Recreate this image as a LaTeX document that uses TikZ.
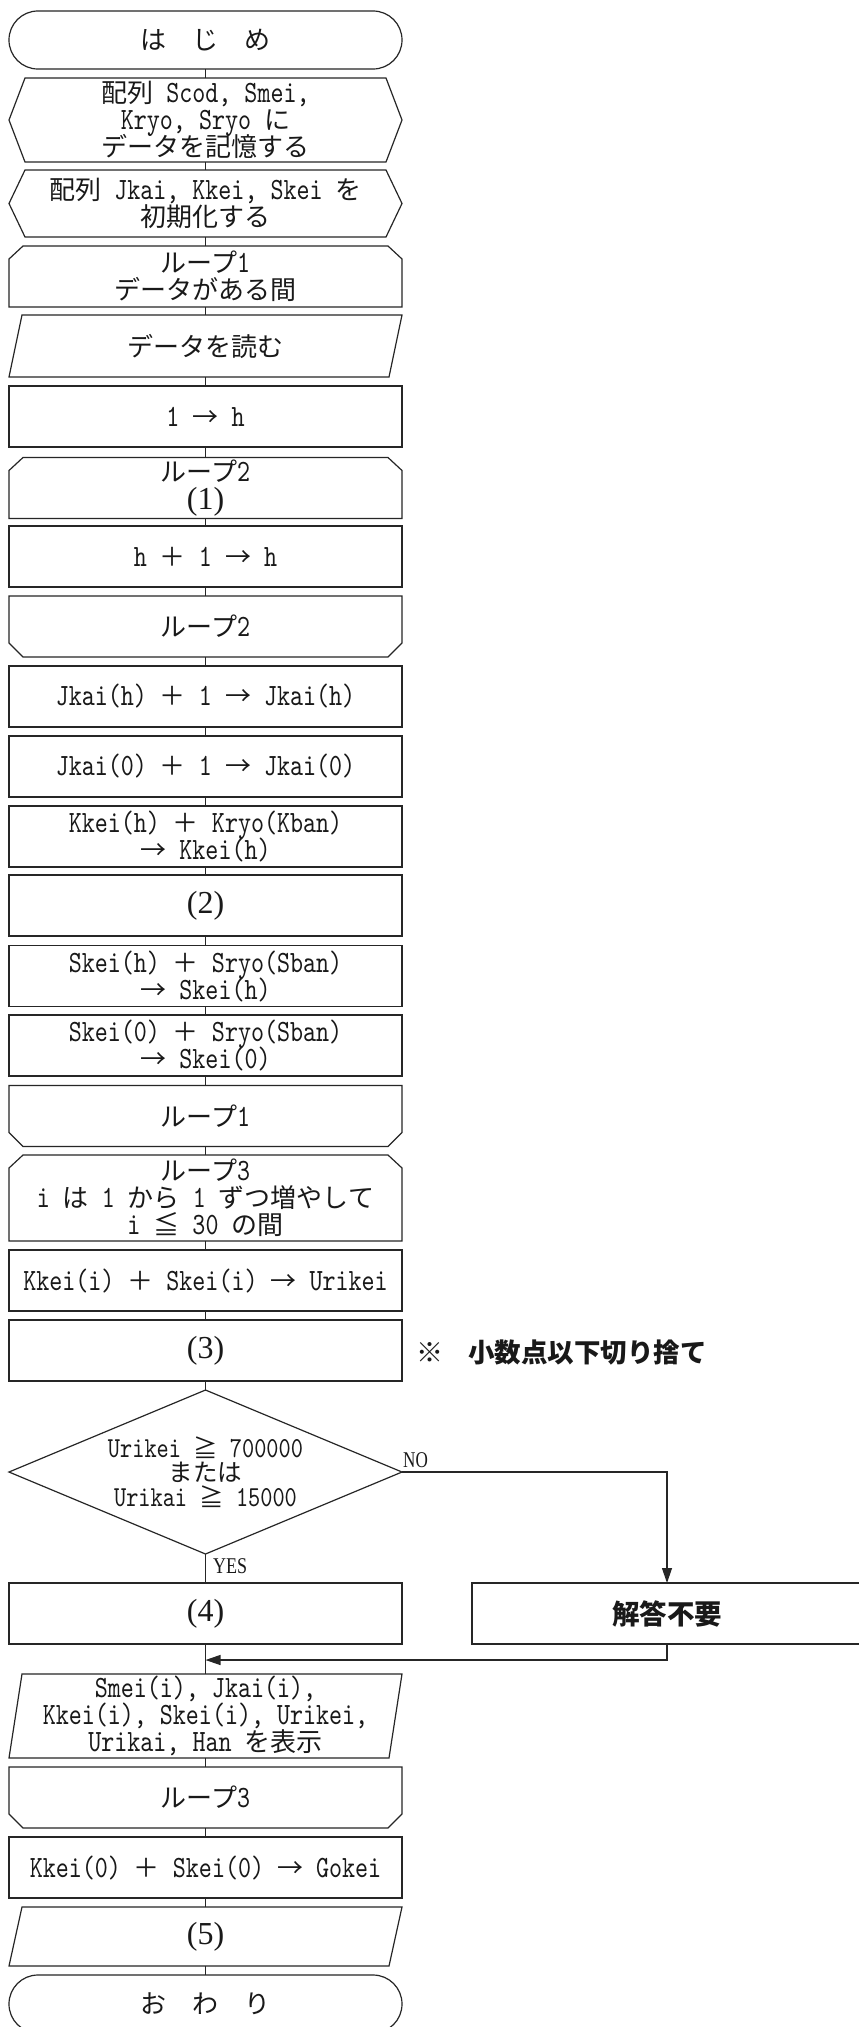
\documentclass[tikz,border=0pt]{standalone}
\usepackage{fontspec}
\newfontfamily\cjk{Noto Sans CJK JP}
\newfontfamily\lmc{lmmono10-regular}[Extension=.otf,FakeStretch=0.8]
\newfontfamily\pnf{Liberation Serif}
\usetikzlibrary{arrows.meta}
\newcommand\J[1]{{\cjk\fontsize{26}{27}\selectfont #1}}
\newcommand\Js[1]{{\cjk\fontsize{24.5}{24.5}\selectfont #1}}
\newcommand\Jb[2]{{\cjk\fontsize{#1}{#1}\selectfont\bfseries #2}}
\newcommand\pn[1]{{\pnf\fontsize{32}{30}\selectfont(#1)}}
\newcommand\myfont{\fontsize{31}{27}\selectfont\lmc\lineskiplimit=-40pt\lineskip=0pt}
\newcommand\decfont{\fontsize{29}{24.5}\selectfont\lmc\lineskiplimit=-40pt\lineskip=0pt}
\newcommand\shhex[1]{\draw[ln] ([xshift=16pt]#1.north west) -- ([xshift=-16pt]#1.north east) -- (#1.east) -- ([xshift=-16pt]#1.south east) -- ([xshift=16pt]#1.south west) -- (#1.west) -- cycle;}
\newcommand\shlps[1]{\draw[ln] ([xshift=14pt]#1.north west) -- ([xshift=-14pt]#1.north east) -- ([yshift=-13pt]#1.north east) -- (#1.south east) -- (#1.south west) -- ([yshift=-13pt]#1.north west) -- cycle;}
\newcommand\shlpe[1]{\draw[ln] (#1.north west) -- (#1.north east) -- ([yshift=14pt]#1.south east) -- ([xshift=-14pt]#1.south east) -- ([xshift=14pt]#1.south west) -- ([yshift=14pt]#1.south west) -- cycle;}
\newcommand\shpara[1]{\draw[ln] ([xshift=13pt]#1.north west) -- (#1.north east) -- ([xshift=-13pt]#1.south east) -- (#1.south west) -- cycle;}
\newcommand\shterm[1]{\draw[ln,rounded corners=28.9pt] (#1.north west) rectangle (#1.south east);}
\newcommand\shdia[1]{\draw[ln] (#1.north) -- (#1.east) -- (#1.south) -- (#1.west) -- cycle;}
\tikzset{
  ln/.style={line width=1.2pt,draw=black!85},
  nd/.style={minimum width=393pt,minimum height=61pt,inner sep=0pt,outer sep=0pt,align=center,font=\myfont,text=black!90},
  box/.style={nd,ln},
  arr/.style={ln,-{Triangle[length=15pt,width=10pt]}},
  lab/.style={inner sep=0pt,text=black!90},
}
\begin{document}
\begin{tikzpicture}[x=1pt,y=-1pt]
\fill[white] (0,0) rectangle (859,2027);
\clip (0,0) rectangle (859,2027);
\node[nd,minimum height=58pt] (start) at (205.5,40) {\J{は　じ　め}};
\node[nd,minimum height=84pt] (prepA) at (205.5,120) {\J{配列} Scod, Smei,\\Kryo, Sryo \J{に}\\\J{データを記憶する}};
\node[nd,minimum height=67pt] (prepB) at (205.5,203.5) {\J{配列} Jkai, Kkei, Skei \J{を}\\\J{初期化する}};
\node[nd] (loopAs) at (205.5,276.5) {\J{ループ}1\\\J{データがある間}};
\node[nd,minimum height=62pt] (read) at (205.5,346) {\J{データを読む}};
\node[box] (s1) at (205.5,416.5) {1 \J{→} h};
\node[nd] (loopBs) at (205.5,488) {\J{ループ}2\\[1.5pt]\pn{1}};
\node[box] (s2) at (205.5,556.5) {h \J{＋} 1 \J{→} h};
\node[nd] (loopBe) at (205.5,626.5) {\J{ループ}2};
\node[box] (s3) at (205.5,696.5) {Jkai(h) \J{＋} 1 \J{→} Jkai(h)};
\node[box] (s4) at (205.5,766.5) {Jkai(0) \J{＋} 1 \J{→} Jkai(0)};
\node[box] (s5) at (205.5,836.5) {Kkei(h) \J{＋} Kryo(Kban)\\\J{→} Kkei(h)};
\node[box] (s6) at (205.5,905.5) {\pn{2}};
\node[box] (s7) at (205.5,976) {Skei(h) \J{＋} Sryo(Sban)\\\J{→} Skei(h)};
\node[box] (s8) at (205.5,1045.5) {Skei(0) \J{＋} Sryo(Sban)\\\J{→} Skei(0)};
\node[nd] (loopAe) at (205.5,1116) {\J{ループ}1};
\node[nd,minimum height=86pt] (loopCs) at (205.5,1198) {\J{ループ}3\\i \J{は} 1 \J{から} 1 \J{ずつ増やして}\\i \J{≦} 30 \J{の間}};
\node[box] (s9) at (205.5,1280.5) {Kkei(i) \J{＋} Skei(i) \J{→} Urikei};
\node[box] (s10) at (205.5,1350.5) {\pn{3}};
\node[nd,minimum height=164pt,font=\decfont] (dec) at (205.5,1472) {Urikei \Js{≧} 700000\\\Js{または}\\Urikai \Js{≧} 15000};
\node[box] (s11) at (205.5,1613.5) {\pn{4}};
\node[box,minimum width=390pt] (na) at (667,1613.5) {\Jb{27.5}{解答不要}};
\node[nd,minimum height=84pt] (out) at (205.5,1716) {Smei(i), Jkai(i),\\Kkei(i), Skei(i), Urikei,\\Urikai, Han \J{を表示}};
\node[nd] (loopCe) at (205.5,1797.5) {\J{ループ}3};
\node[box] (s12) at (205.5,1867.5) {Kkei(0) \J{＋} Skei(0) \J{→} Gokei};
\node[nd,minimum height=59pt] (pfive) at (205.5,1936.5) {\pn{5}};
\node[nd,minimum height=58pt] (fin) at (205.5,2004) {\J{お　わ　り}};
% outlines
\shterm{start}
\shhex{prepA}
\shhex{prepB}
\shlps{loopAs}
\shpara{read}
\shlps{loopBs}
\shlpe{loopBe}
\shlpe{loopAe}
\shlps{loopCs}
\shdia{dec}
\shpara{out}
\shlpe{loopCe}
\shpara{pfive}
\shterm{fin}
% labels
\node[lab,anchor=base west] (nolab) at (403,1467) {\scalebox{0.76}[1]{\pnf\fontsize{22.5}{22.5}\selectfont NO}};
\node[lab,anchor=base west] (yeslab) at (213,1573) {\scalebox{0.8}[1]{\pnf\fontsize{22.5}{22.5}\selectfont YES}};
\node[lab] (mark) at (430,1352) {{\cjk\fontsize{27}{27}\selectfont ※}};
\node[lab,anchor=west] (note) at (468,1352) {\Jb{26.5}{小数点以下切り捨て}};
% connectors
\foreach \a/\b in {start/prepA,prepA/prepB,prepB/loopAs,loopAs/read,read/s1,s1/loopBs,loopBs/s2,s2/loopBe,loopBe/s3,s3/s4,s4/s5,s5/s6,s6/s7,s7/s8,s8/loopAe,loopAe/loopCs,loopCs/s9,s9/s10,s10/dec,dec/s11,s11/out,out/loopCe,loopCe/s12,s12/pfive,pfive/fin}
  \draw[ln] (\a.south) -- (\b.north);
\draw[arr] (dec.east) -| (na.north);
\coordinate (merge) at (205.5,1660);
\draw[arr] (na.south) |- (merge);
\end{tikzpicture}
\end{document}
